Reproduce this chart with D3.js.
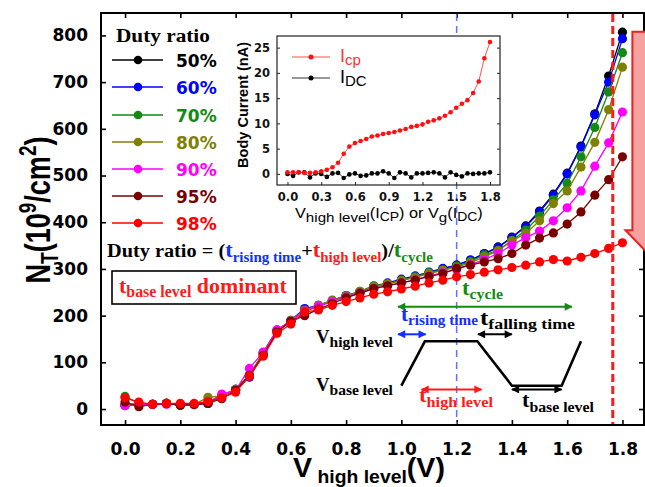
<!DOCTYPE html>
<html>
<head>
<meta charset="utf-8">
<script src="https://cdn.jsdelivr.net/npm/d3@7.9.0/dist/d3.min.js"></script>
<style>
  body { margin: 0; background: #fff; }
  svg { display: block; }
</style>
</head>
<body>
<svg id="chart" width="645" height="487"></svg>
<script>
// V_high level (V)
const voltage = [0.00, 0.05, 0.10, 0.15, 0.20, 0.25, 0.30, 0.35, 0.40, 0.45, 0.50, 0.55, 0.60,
  0.65, 0.70, 0.75, 0.80, 0.85, 0.90, 0.95, 1.00, 1.05, 1.10, 1.15, 1.20, 1.25, 1.30, 1.35,
  1.40, 1.45, 1.50, 1.55, 1.60, 1.65, 1.70, 1.75, 1.80];

// N_T (10^9/cm^2) per duty ratio
const nt50 = [8, 10, 10, 12, 8, 10, 12, 28, 42, 72, 120, 168, 188, 210, 220, 232, 242, 250, 262, 268,
  276, 283, 292, 300, 308, 319, 333, 347, 368, 392, 424, 460, 505, 563, 632, 713, 807];
const nt60 = [8, 11, 10, 12, 9, 10, 12, 28, 42, 68, 118, 168, 190, 215, 222, 232, 243, 251, 263, 270,
  278, 285, 293, 301, 308, 319, 332, 346, 367, 390, 422, 458, 503, 561, 630, 700, 793];
const nt70 = [27, 12, 10, 12, 9, 9, 14, 28, 42, 72, 120, 168, 188, 210, 222, 233, 243, 252, 264, 268,
  276, 283, 292, 298, 306, 316, 330, 340, 361, 383, 413, 448, 483, 540, 603, 679, 763];
const nt80 = [10, 12, 10, 12, 9, 10, 25, 28, 42, 72, 120, 168, 190, 212, 222, 232, 242, 252, 262, 268,
  275, 282, 290, 297, 304, 313, 326, 339, 360, 376, 403, 440, 467, 518, 571, 641, 732];
const nt90 = [7, 10, 10, 10, 10, 10, 14, 32, 40, 87, 122, 170, 188, 210, 220, 230, 240, 248, 258, 264,
  270, 277, 285, 292, 299, 309, 320, 333, 351, 367, 381, 403, 431, 467, 520, 570, 636];
const nt95 = [15, 5, 10, 12, 8, 10, 12, 22, 40, 72, 115, 165, 188, 200, 214, 226, 238, 248, 258, 264,
  270, 276, 284, 290, 301, 308, 315, 322, 333, 351, 366, 377, 396, 422, 458, 491, 540];
const nt98 = [24, 15, 10, 12, 12, 12, 16, 24, 36, 70, 113, 162, 182, 208, 212, 222, 230, 238, 246, 251,
  257, 263, 270, 276, 283, 288, 293, 298, 303, 308, 315, 320, 317, 325, 333, 344, 356];

const dutyLabels = ['50%', '60%', '70%', '80%', '90%', '95%', '98%'];
const dutySeries = [nt50, nt60, nt70, nt80, nt90, nt95, nt98];
const dutyColors = ['#000000', '#0000ff', '#138a13', '#808000', '#ff00ff', '#7a0000', '#ff0000'];

// inset: body current (nA)
const icp = [0.3, 0.3, 0.3, 0.2, 0.2, 0.3, 0.5, 0.8, 1.3, 2.2, 4.0, 5.4, 6.1, 6.5, 6.9, 7.4, 7.6, 7.9,
  8.1, 8.3, 8.6, 8.9, 9.3, 9.5, 9.8, 10.3, 10.6, 11.0, 11.5, 12.2, 13.1, 13.9, 14.6, 16.0, 18.3, 22.9, 26.1];
const idc = [0.0, -0.4, 0.3, 0.3, -0.7, 0.1, 0.0, -0.6, 0.1, 0.2, -0.8, -0.1, 0.1, -0.4, -0.3, 0.1, 0.1,
  0.5, 0.1, -0.8, 0.3, 0.1, -0.7, 0.1, 0.1, 0.2, 0.3, 0.1, -0.7, 0.3, -0.2, -0.5, 0.1, 0.0, 0.1, 0.1, 0.3];

const xTicks = [0, 0.2, 0.4, 0.6, 0.8, 1.0, 1.2, 1.4, 1.6, 1.8];
const yTicks = [0, 100, 200, 300, 400, 500, 600, 700, 800];
const insetXTicks = [0, 0.3, 0.6, 0.9, 1.2, 1.5, 1.8];
const insetYTicks = [0, 5, 10, 15, 20, 25];

// pulse waveform sketch (in plot units)
const waveV = [1.0, 1.085, 1.275, 1.40, 1.58, 1.65];
const waveN = [50, 145, 145, 50, 50, 145];

const svg = d3.select('#chart');
const SANS = 'Liberation Sans, Arial, sans-serif';
const WIDE = 'DejaVu Sans, sans-serif';
const SERIF = 'Liberation Serif, Times New Roman, serif';

const x = d3.scaleLinear().domain([-0.087, 1.878]).range([101, 644]);
const y = d3.scaleLinear().domain([-34.2, 848]).range([425, 13]);

// text with sub/superscripts, optionally squeezed/stretched to a width
function richText(parent, px, py, parts, o = {}) {
  const g = parent.append('g');
  const t = g.append('text')
    .attr('font-family', o.family || SERIF)
    .attr('font-weight', o.weight || 'bold')
    .attr('text-anchor', o.anchor || 'start');
  let shift = 0;
  parts.forEach(p => {
    const off = p.dy || 0;
    t.append('tspan')
      .attr('dy', off - shift)
      .attr('font-size', p.size)
      .attr('fill', p.fill || '#000')
      .text(p.t);
    shift = off;
  });
  let tf = `translate(${px},${py})`;
  if (o.rotate) tf += ` rotate(${o.rotate})`;
  const w = t.node().getComputedTextLength();
  const sx = o.width ? o.width / w : 1;
  const sy = o.sy || 1;
  tf += ` scale(${sx},${sy})`;
  g.attr('transform', tf);
  return g;
}

// ---------- main axes ----------
const axes = svg.append('g');
axes.append('g')
  .attr('transform', 'translate(0,425)')
  .call(d3.axisBottom(x).tickValues(xTicks).tickSizeInner(-5).tickSizeOuter(0)
    .tickPadding(18).tickFormat(d3.format('.1f')));
axes.append('g')
  .attr('transform', 'translate(0,13)')
  .call(d3.axisTop(x).tickValues(xTicks).tickSizeInner(-5).tickSizeOuter(0).tickFormat(''));
axes.append('g')
  .attr('transform', 'translate(101,0)')
  .call(d3.axisLeft(y).tickValues(yTicks).tickSizeInner(-5).tickSizeOuter(0).tickPadding(13));
axes.append('g')
  .attr('transform', 'translate(644,0)')
  .call(d3.axisRight(y).tickValues(yTicks).tickSizeInner(-5).tickSizeOuter(0).tickFormat(''));
axes.selectAll('.domain').remove();
axes.selectAll('.tick line').attr('stroke', '#000').attr('stroke-width', 1.6);
axes.selectAll('.tick text')
  .attr('font-family', WIDE).attr('font-weight', 'bold').attr('font-size', 17).attr('fill', '#000');

svg.append('rect')
  .attr('x', 101).attr('y', 13).attr('width', 543).attr('height', 412)
  .attr('fill', 'none').attr('stroke', '#000').attr('stroke-width', 2);

// blue dashed guide
svg.append('line')
  .attr('x1', x(1.2)).attr('x2', x(1.2)).attr('y1', 14).attr('y2', 424)
  .attr('stroke', '#5a78ff').attr('stroke-width', 1.5).attr('stroke-dasharray', '7,5');

// ---------- data series ----------
const line = d3.line().x((d, i) => x(voltage[i])).y(d => y(d));
dutySeries.forEach((s, k) => {
  const g = svg.append('g');
  g.append('path').attr('d', line(s)).attr('fill', 'none')
    .attr('stroke', dutyColors[k]).attr('stroke-width', 1.3);
  g.selectAll('circle').data(s).join('circle')
    .attr('cx', (d, i) => x(voltage[i])).attr('cy', d => y(d))
    .attr('r', 4.6).attr('fill', dutyColors[k]);
});

// red dashed limit
svg.append('line')
  .attr('x1', x(1.765)).attr('x2', x(1.765)).attr('y1', 14).attr('y2', 424)
  .attr('stroke', '#ff1a1a').attr('stroke-width', 3).attr('stroke-dasharray', '8,4');

// ---------- inset ----------
const ix = d3.scaleLinear().domain([-0.093, 1.889]).range([277, 500]);
const iy = d3.scaleLinear().domain([-2.2, 27.3]).range([185, 36]);
const inset = svg.append('g');
inset.append('rect').attr('x', 277).attr('y', 36).attr('width', 223).attr('height', 149)
  .attr('fill', '#fff');
const iax = inset.append('g');
iax.append('g').attr('transform', 'translate(0,185)')
  .call(d3.axisBottom(ix).tickValues(insetXTicks).tickSizeInner(-3).tickSizeOuter(0)
    .tickPadding(8).tickFormat(d3.format('.1f')));
iax.append('g').attr('transform', 'translate(277,0)')
  .call(d3.axisLeft(iy).tickValues(insetYTicks).tickSizeInner(-3).tickSizeOuter(0).tickPadding(7));
iax.append('g').attr('transform', 'translate(500,0)')
  .call(d3.axisRight(iy).tickValues(insetYTicks).tickSizeInner(-3).tickSizeOuter(0).tickFormat(''));
iax.selectAll('.domain').remove();
iax.selectAll('.tick line').attr('stroke', '#222').attr('stroke-width', 1);
iax.selectAll('.tick text')
  .attr('font-family', WIDE).attr('font-weight', 'bold').attr('font-size', 11.5).attr('fill', '#111');
inset.append('rect').attr('x', 277).attr('y', 36).attr('width', 223).attr('height', 149)
  .attr('fill', 'none').attr('stroke', '#222').attr('stroke-width', 1.2);

const iline = d3.line().x((d, i) => ix(voltage[i])).y(d => iy(d));
[[idc, '#333', '#000'], [icp, '#ff5050', '#ff1010']].forEach(([s, lc, mc]) => {
  inset.append('path').attr('d', iline(s)).attr('fill', 'none')
    .attr('stroke', lc).attr('stroke-width', 1);
  inset.append('g').selectAll('circle').data(s).join('circle')
    .attr('cx', (d, i) => ix(voltage[i])).attr('cy', d => iy(d))
    .attr('r', 2.3).attr('fill', mc);
});

// inset legend
[[57, '#ff5050', '#ff1010', 'cp', '#ff3030'], [78, '#333', '#000', 'DC', '#000']].forEach(([ly, lc, mc, sub, tc]) => {
  inset.append('line').attr('x1', 292).attr('x2', 330).attr('y1', ly).attr('y2', ly)
    .attr('stroke', lc).attr('stroke-width', 1.2);
  inset.append('circle').attr('cx', 311).attr('cy', ly).attr('r', 2.5).attr('fill', mc);
  richText(inset, 340, ly + 5, [
    { t: 'I', size: 18, fill: tc },
    { t: sub, size: 15, fill: tc, dy: 3 }
  ], { family: SANS, weight: 'normal' });
});

richText(inset, 295, 218, [
  { t: 'V', size: 14 },
  { t: 'high level', size: 13, dy: 4 },
  { t: '(I', size: 14 },
  { t: 'CP', size: 12, dy: 3 },
  { t: ') or V', size: 14 },
  { t: 'g', size: 13, dy: 4 },
  { t: '(I', size: 14 },
  { t: 'DC', size: 12, dy: 3 },
  { t: ')', size: 14 }
], { family: SANS, weight: 'normal', width: 188 });

richText(inset, 248, 105, [{ t: 'Body Current (nA)', size: 14 }],
  { family: SANS, weight: 'bold', anchor: 'middle', rotate: -90, width: 126, sy: 1.1 });

// ---------- axis titles ----------
richText(svg, 50, 210, [
  { t: 'N', size: 27 },
  { t: 'T', size: 19, dy: 6 },
  { t: '(10', size: 27 },
  { t: '9', size: 19, dy: -11 },
  { t: '/cm', size: 27 },
  { t: '2', size: 19, dy: -11 },
  { t: ')', size: 27 }
], { family: SANS, anchor: 'middle', rotate: -90, width: 147, sy: 1.3 });

richText(svg, 293, 477, [
  { t: 'V', size: 28 },
  { t: ' high level', size: 19, dy: 6 },
  { t: '(V)', size: 28 }
], { family: SANS, width: 152 });

// ---------- legend ----------
richText(svg, 116, 42, [{ t: 'Duty ratio', size: 19 }], { width: 94 });
const legendY = [60, 87, 115, 142, 169, 196, 223];
dutyLabels.forEach((lab, k) => {
  svg.append('line').attr('x1', 112).attr('x2', 163).attr('y1', legendY[k]).attr('y2', legendY[k])
    .attr('stroke', dutyColors[k]).attr('stroke-width', 1.3);
  svg.append('circle').attr('cx', 138).attr('cy', legendY[k]).attr('r', 4.3).attr('fill', dutyColors[k]);
  svg.append('text').attr('x', 176).attr('y', legendY[k] + 6.5)
    .attr('font-family', WIDE).attr('font-weight', 'bold').attr('font-size', 17)
    .attr('fill', dutyColors[k]).text(lab);
});

// ---------- annotations ----------
const BLUE = '#1030ff', RED = '#ff1a1a', GREEN = '#138a13';
richText(svg, 107, 257, [
  { t: 'Duty ratio = (', size: 19 },
  { t: 't', size: 21, fill: BLUE },
  { t: 'rising time', size: 14, fill: BLUE, dy: 5 },
  { t: '+', size: 19 },
  { t: 't', size: 21, fill: RED },
  { t: 'high level', size: 14, fill: RED, dy: 5 },
  { t: ')/', size: 19 },
  { t: 't', size: 21, fill: GREEN },
  { t: 'cycle', size: 14, fill: GREEN, dy: 5 }
], { width: 326 });

svg.append('rect').attr('x', 112).attr('y', 271).attr('width', 184).attr('height', 33)
  .attr('fill', 'none').attr('stroke', '#000').attr('stroke-width', 1.6);
richText(svg, 119, 293, [
  { t: 't', size: 22, fill: RED },
  { t: 'base level', size: 16, fill: RED, dy: 4 },
  { t: ' dominant', size: 22, fill: RED }
], { width: 168 });

// waveform
svg.append('path')
  .attr('d', d3.line().x((d, i) => x(waveV[i])).y(d => y(d))(waveN))
  .attr('fill', 'none').attr('stroke', '#000').attr('stroke-width', 2.6)
  .attr('stroke-linejoin', 'miter');

// double-headed arrows
const defs = svg.append('defs');
function headFor(color, id) {
  ['s', 'e'].forEach(end => {
    defs.append('marker').attr('id', id + end)
      .attr('viewBox', '0 0 10 10').attr('refX', end === 'e' ? 9 : 1).attr('refY', 5)
      .attr('markerUnits', 'userSpaceOnUse').attr('markerWidth', 9).attr('markerHeight', 8)
      .attr('orient', 'auto')
      .append('path')
      .attr('d', end === 'e' ? 'M0,0 L10,5 L0,10 Z' : 'M10,0 L0,5 L10,10 Z')
      .attr('fill', color);
  });
}
function dArrow(v1, v2, n, color, id) {
  headFor(color, id);
  svg.append('line').attr('x1', x(v1)).attr('x2', x(v2)).attr('y1', y(n)).attr('y2', y(n))
    .attr('stroke', color).attr('stroke-width', 2)
    .attr('marker-start', `url(#${id}s)`).attr('marker-end', `url(#${id}e)`);
}
dArrow(0.988, 1.617, 219, GREEN, 'ag');
dArrow(0.988, 1.088, 160, BLUE, 'ab');
dArrow(1.277, 1.40, 160, '#000', 'ak');
dArrow(1.073, 1.29, 42, RED, 'ar');
dArrow(1.40, 1.58, 42, '#000', 'ak2');

richText(svg, 462, 295, [
  { t: 't', size: 21, fill: GREEN },
  { t: 'cycle', size: 15, fill: GREEN, dy: 4 }
], { width: 41 });
richText(svg, 401, 321, [
  { t: 't', size: 21, fill: BLUE },
  { t: 'rising time', size: 15, fill: BLUE, dy: 4 }
], { width: 77 });
richText(svg, 480, 325, [
  { t: 't', size: 21 },
  { t: 'falling time', size: 15, dy: 4 }
], { width: 95 });
richText(svg, 316, 343, [
  { t: 'V', size: 18 },
  { t: 'high level', size: 15, dy: 4 }
], { width: 77 });
richText(svg, 316, 391, [
  { t: 'V', size: 18 },
  { t: 'base level', size: 15, dy: 4 }
], { width: 77 });
richText(svg, 419, 402, [
  { t: 't', size: 21, fill: RED },
  { t: 'high level', size: 15, fill: RED, dy: 5 }
], { width: 74 });
richText(svg, 522, 407, [
  { t: 't', size: 21 },
  { t: 'base level', size: 15, dy: 5 }
], { width: 72 });

// big downward arrow at right edge
const arrowPts = [[1.836, 808], [1.926, 808], [1.926, 383], [1.951, 383], [1.881, 340], [1.811, 383], [1.836, 383]];
svg.append('path')
  .attr('d', d3.line().x(d => x(d[0])).y(d => y(d[1])).curve(d3.curveLinearClosed)(arrowPts))
  .attr('fill', '#f7a0a0').attr('stroke', '#e8221f').attr('stroke-width', 2);
</script>
</body>
</html>
